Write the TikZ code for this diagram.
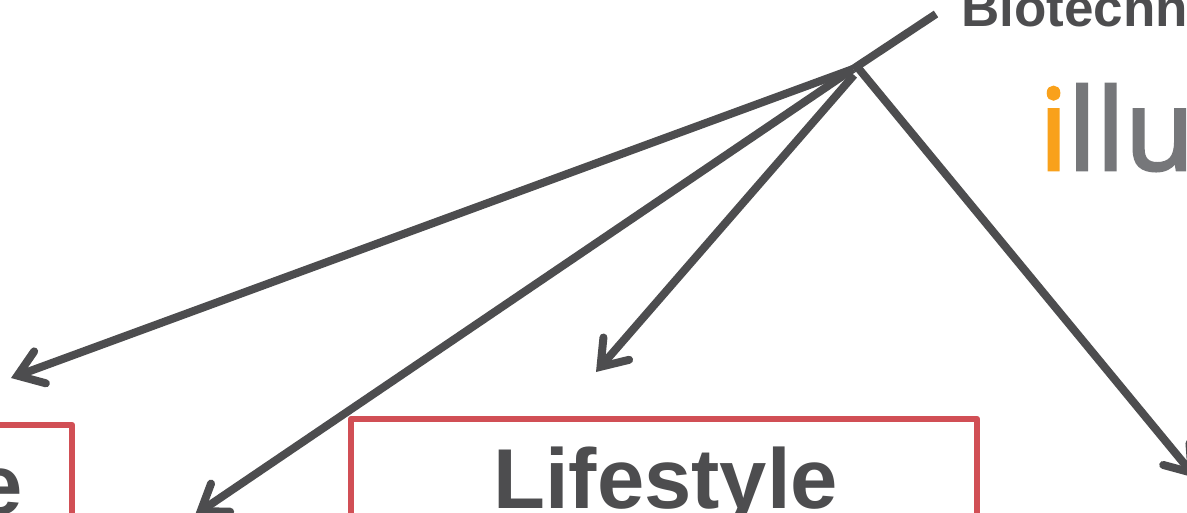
\documentclass[tikz,border=0pt]{standalone}
\usepackage{fontspec}
\setmainfont{Liberation Sans}
\newfontfamily\logofont[FakeBold=2.5]{Open Sans}
\usetikzlibrary{arrows.meta}
\definecolor{ink}{HTML}{4D4D4F}
\definecolor{boxred}{HTML}{D14F55}
\definecolor{logogrey}{HTML}{76777A}
\definecolor{logoorange}{HTML}{F9A11B}
\tikzset{
  conn/.style={draw=ink,line width=8pt,-{Straight Barb[length=24pt,width=34pt,line cap=round,line join=miter]}},
  plain/.style={draw=ink,line width=8pt},
  redbox/.style={draw=boxred,line width=6.5pt,line join=round,inner sep=0pt,outer sep=0pt,anchor=north west},
  title/.style={text=ink,font=\fontsize{85}{85}\selectfont\bfseries,inner sep=0pt,anchor=base west},
  head/.style={text=ink,font=\fontsize{53}{53}\selectfont\bfseries,inner sep=0pt,anchor=base west},
  logo/.style={text=logogrey,font=\logofont\fontsize{113}{113}\selectfont,inner sep=0pt,anchor=base west}
}
\begin{document}
\begin{tikzpicture}[x=1pt,y=-1pt]
\useasboundingbox (0,0) rectangle (1187,513);
\clip (0,0) rectangle (1187,513);
\fill[white] (0,0) rectangle (1187,513);
\node[redbox,minimum width=626pt,minimum height=200pt] (lifebox) at (351,419) {};
\node[redbox,minimum width=200pt,minimum height=200pt] (leftbox) at (-128,425) {};
\node[title] (lifetext) at (493,508) {Lifestyle};
\node[title,anchor=base east] (lefttext) at (23,514) {e};
\node[head] (bio) at (961,27) {Biotechn};
\node[logo] (illu) at (1039,170) {\textcolor{logoorange}{i}llu};
\coordinate (src) at (936,14);
\coordinate (hub) at (853,69);
\coordinate (hubc) at (854,75);
\coordinate (hubd) at (859,69);
\coordinate (a) at (11,378);
\coordinate (b) at (195,515);
\coordinate (c) at (596,372);
\coordinate (d) at (1196,478);
\draw[plain] (src) -- (hub);
\draw[conn] (hub) -- (a);
\draw[conn] (hub) -- (b);
\draw[conn] (hubc) -- (c);
\draw[conn] (hubd) -- (d);
\end{tikzpicture}
\end{document}
